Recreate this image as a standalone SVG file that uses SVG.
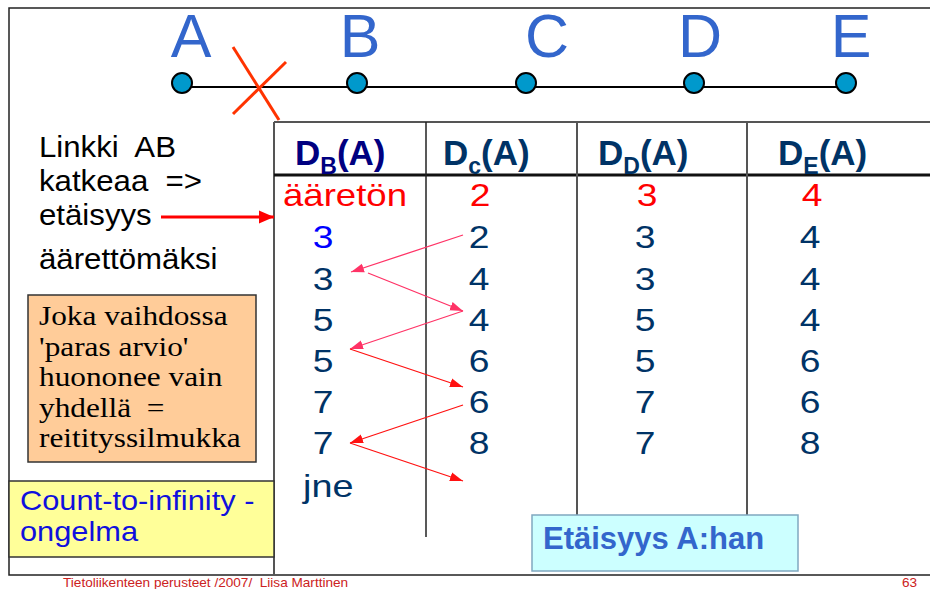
<svg xmlns="http://www.w3.org/2000/svg" width="930" height="589" viewBox="0 0 930 589">
<style>
.sans{font-family:"Liberation Sans",Arial,sans-serif}
.serif{font-family:"Liberation Serif","Times New Roman",serif}
.lbl{font-family:"Liberation Sans",Arial,sans-serif;font-size:61px;fill:#3366CC;text-anchor:middle}
.node{fill:#0099CC;stroke:#000;stroke-width:2}
.hdr{font-family:"Liberation Sans",Arial,sans-serif;font-size:35px;font-weight:bold;fill:#003366}
.val{font-family:"Liberation Sans",Arial,sans-serif;font-size:31px;fill:#003366;text-anchor:middle}
.red{fill:#FF0000}
.left{font-family:"Liberation Sans",Arial,sans-serif;font-size:30px;fill:#000}
.tline{stroke:#555;stroke-width:2;fill:none}
.pk{stroke:#FF3366;stroke-width:1.3;fill:none}
.rd{stroke:#FF1111;stroke-width:1.3;fill:none}
.loop{font-family:"Liberation Serif","Times New Roman",serif;font-size:27px;fill:#000}
.cnt{font-family:"Liberation Sans",Arial,sans-serif;font-size:27.5px;fill:#1010DD}
</style>
<defs>
<marker id="mpk" markerUnits="userSpaceOnUse" markerWidth="14" markerHeight="10" refX="13" refY="5" orient="auto">
<path d="M0,0.5 L13,5 L0,9.5 Z" fill="#FF3366"/>
</marker>
<marker id="mrd" markerUnits="userSpaceOnUse" markerWidth="14" markerHeight="10" refX="13" refY="5" orient="auto">
<path d="M0,0.5 L13,5 L0,9.5 Z" fill="#FF1111"/>
</marker>
<marker id="mbig" markerUnits="userSpaceOnUse" markerWidth="16" markerHeight="14" refX="15" refY="7" orient="auto">
<path d="M0,0.5 L15,7 L0,13.5 Z" fill="#FF0000"/>
</marker>
</defs>
<rect width="930" height="589" fill="#fff"/>
<!-- outer frame -->
<rect x="9" y="8" width="940" height="567" fill="none" stroke="#222" stroke-width="1.5"/>

<!-- table -->
<g id="table">
<line class="tline" x1="274" y1="122" x2="930" y2="122"/>
<line class="tline" x1="274" y1="122" x2="274" y2="575"/>
<line x1="274" y1="175" x2="930" y2="175" stroke="#111" stroke-width="3"/>
<line class="tline" x1="426" y1="122" x2="426" y2="537" style="stroke:#222;stroke-width:1.5"/>
<line class="tline" x1="577" y1="122" x2="577" y2="518"/>
<line class="tline" x1="747" y1="122" x2="747" y2="518"/>
<text class="hdr" x="295" y="165" style="fill:#000080">D<tspan font-size="23" dy="9">B</tspan><tspan dy="-9">(A)</tspan></text>
<text class="hdr" x="443" y="165">D<tspan font-size="23" dy="9">c</tspan><tspan dy="-9">(A)</tspan></text>
<text class="hdr" x="598" y="165">D<tspan font-size="23" dy="9">D</tspan><tspan dy="-9">(A)</tspan></text>
<text class="hdr" x="778" y="165">D<tspan font-size="23" dy="9">E</tspan><tspan dy="-9">(A)</tspan></text>

<text class="val red" transform="translate(283,206) scale(1.18,1)" style="text-anchor:start">ääretön</text>
<text class="val red" transform="translate(480,206) scale(1.2,1)">2</text>
<text class="val red" transform="translate(647,206) scale(1.2,1)">3</text>
<text class="val red" transform="translate(812,206) scale(1.2,1)">4</text>

<text class="val" transform="translate(323,248) scale(1.2,1)" style="fill:#0000FF">3</text>
<text class="val" transform="translate(479,248) scale(1.2,1)">2</text>
<text class="val" transform="translate(645,248) scale(1.2,1)">3</text>
<text class="val" transform="translate(810,248) scale(1.2,1)">4</text>

<text class="val" transform="translate(323,290) scale(1.2,1)">3</text>
<text class="val" transform="translate(479,290) scale(1.2,1)">4</text>
<text class="val" transform="translate(645,290) scale(1.2,1)">3</text>
<text class="val" transform="translate(810,290) scale(1.2,1)">4</text>

<text class="val" transform="translate(323,331) scale(1.2,1)">5</text>
<text class="val" transform="translate(479,331) scale(1.2,1)">4</text>
<text class="val" transform="translate(645,331) scale(1.2,1)">5</text>
<text class="val" transform="translate(810,331) scale(1.2,1)">4</text>

<text class="val" transform="translate(323,372) scale(1.2,1)">5</text>
<text class="val" transform="translate(479,372) scale(1.2,1)">6</text>
<text class="val" transform="translate(645,372) scale(1.2,1)">5</text>
<text class="val" transform="translate(810,372) scale(1.2,1)">6</text>

<text class="val" transform="translate(323,413) scale(1.2,1)">7</text>
<text class="val" transform="translate(479,413) scale(1.2,1)">6</text>
<text class="val" transform="translate(645,413) scale(1.2,1)">7</text>
<text class="val" transform="translate(810,413) scale(1.2,1)">6</text>

<text class="val" transform="translate(323,454) scale(1.2,1)">7</text>
<text class="val" transform="translate(479,454) scale(1.2,1)">8</text>
<text class="val" transform="translate(645,454) scale(1.2,1)">7</text>
<text class="val" transform="translate(810,454) scale(1.2,1)">8</text>

<text class="val" transform="translate(303,497) scale(1.22,1)" style="text-anchor:start">jne</text>
</g>

<!-- connectors -->
<g id="connectors">
<line x1="181" y1="87" x2="846" y2="87" stroke="#000" stroke-width="2"/>
<line x1="233" y1="47" x2="279" y2="120" stroke="#FF3300" stroke-width="3"/>
<line x1="233" y1="114" x2="286" y2="62" stroke="#FF3300" stroke-width="3"/>
<line x1="161" y1="217" x2="274" y2="217" stroke="#FF0000" stroke-width="3" marker-end="url(#mbig)"/>
<line class="pk" x1="463" y1="235" x2="351" y2="272" marker-end="url(#mpk)"/>
<line class="pk" x1="368" y1="273" x2="463" y2="311" marker-end="url(#mpk)"/>
<line class="pk" x1="463" y1="311" x2="350" y2="349" marker-end="url(#mpk)"/>
<line class="rd" x1="350" y1="349" x2="463" y2="387" marker-end="url(#mrd)"/>
<line class="rd" x1="463" y1="405" x2="350" y2="443" marker-end="url(#mrd)"/>
<line class="rd" x1="350" y1="443" x2="463" y2="481" marker-end="url(#mrd)"/>
</g>

<!-- nodes -->
<g id="node-A"><circle class="node" cx="182" cy="83" r="10"/><text class="lbl" x="191" y="57">A</text></g>
<g id="node-B"><circle class="node" cx="357" cy="83" r="10"/><text class="lbl" x="360" y="57">B</text></g>
<g id="node-C"><circle class="node" cx="526" cy="83" r="10"/><text class="lbl" x="547" y="57">C</text></g>
<g id="node-D"><circle class="node" cx="694" cy="83" r="10"/><text class="lbl" x="700" y="57">D</text></g>
<g id="node-E"><circle class="node" cx="846" cy="83" r="10"/><text class="lbl" x="851" y="57">E</text></g>

<!-- left note -->
<g id="note-link">
<text class="left" transform="translate(39,157) scale(1.04,1)" xml:space="preserve">Linkki  AB</text>
<text class="left" transform="translate(39,191) scale(1.04,1)" xml:space="preserve">katkeaa  =&gt;</text>
<text class="left" transform="translate(39,225) scale(1.04,1)">etäisyys</text>
<text class="left" transform="translate(39,269) scale(1.04,1)">äärettömäksi</text>
</g>

<g id="note-loop">
<rect x="28" y="295" width="228" height="167" fill="#FFCC99" stroke="#333" stroke-width="1.5"/>
<text class="loop" transform="translate(39,325) scale(1.16,1)">Joka vaihdossa</text>
<text class="loop" transform="translate(39,355.5) scale(1.16,1)">'paras arvio'</text>
<text class="loop" transform="translate(39,386) scale(1.16,1)">huononee vain</text>
<text class="loop" transform="translate(39,416.5) scale(1.16,1)" xml:space="preserve">yhdellä  =</text>
<text class="loop" transform="translate(39,447) scale(1.16,1)">reitityssilmukka</text>
</g>

<g id="note-count">
<rect x="9" y="481" width="265" height="76" fill="#FFFF99" stroke="#333" stroke-width="1.5"/>
<text class="cnt" transform="translate(20,510) scale(1.12,1)">Count-to-infinity -</text>
<text class="cnt" transform="translate(20,541) scale(1.12,1)">ongelma</text>
</g>

<g id="note-distance">
<rect x="532" y="515" width="266" height="56" fill="#CCFFFF" stroke="#80A8C0" stroke-width="1.5"/>
<text class="sans" x="543" y="549" font-size="31" font-weight="bold" fill="#3366CC">Etäisyys A:han</text>
</g>

<g id="footer">
<text class="sans" x="63" y="587" font-size="13.6" fill="#CC2222" xml:space="preserve">Tietoliikenteen perusteet /2007/  Liisa Marttinen</text>
<text class="sans" x="902" y="587" font-size="13.6" fill="#CC2222">63</text>
</g>
</svg>
